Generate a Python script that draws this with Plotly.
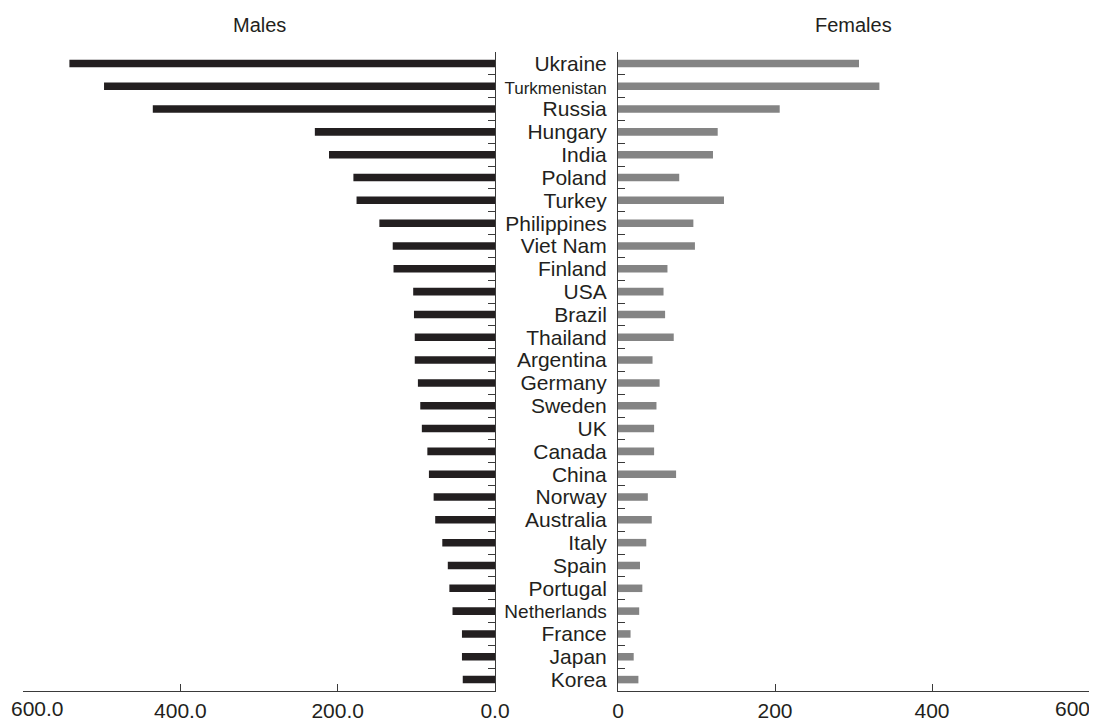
import plotly.graph_objects as go

countries = ["Ukraine", "Turkmenistan", "Russia", "Hungary", "India", "Poland", "Turkey",
             "Philippines", "Viet Nam", "Finland", "USA", "Brazil", "Thailand", "Argentina",
             "Germany", "Sweden", "UK", "Canada", "China", "Norway", "Australia", "Italy",
             "Spain", "Portugal", "Netherlands", "France", "Japan", "Korea"]
males = [541, 497, 435, 229, 211, 180, 176, 147, 130, 129, 104, 103, 102, 102,
         98, 95, 93, 86, 84, 78, 76, 67, 60, 58, 54, 42, 42, 41]
females = [307, 333, 206, 127, 121, 78, 135, 96, 98, 63, 58, 60, 71, 44,
           53, 49, 46, 46, 74, 38, 43, 36, 28, 31, 27, 16, 20, 26]
left_ticks = [0, 200, 400, 600]
right_ticks = [0, 200, 400, 600]
# long names are set in a narrower face in the original; emulate with a smaller size
label_sizes = {"Turkmenistan": 17, "Netherlands": 19}

W, H = 1097, 722
OFF = 8  # page body margin shifts the figure by 8px
INK = "#231f20"
AX = "#3a3a3a"
FONT = "Liberation Sans, Arial, sans-serif"
TICK_SIZE = 21

ticktext = [f"<span style='font-size:{label_sizes[c]}px'>{c}</span>" if c in label_sizes else c
            for c in countries]

fig = go.Figure()
fig.add_trace(go.Bar(y=countries, x=males, orientation="h", xaxis="x", yaxis="y",
                     marker=dict(color=INK, line=dict(width=0)), width=0.33,
                     showlegend=False, hoverinfo="x+y"))
fig.add_trace(go.Bar(y=countries, x=females, orientation="h", xaxis="x2", yaxis="y2",
                     marker=dict(color="#848484", line=dict(width=0)), width=0.33,
                     showlegend=False, hoverinfo="x+y"))

common_x = dict(showgrid=False, zeroline=False, showline=True, linecolor=AX, linewidth=1,
                ticks="inside", ticklen=7, tickcolor=AX, tickwidth=1, automargin=False,
                tickfont=dict(size=TICK_SIZE, color=INK, family=FONT), ticklabelstandoff=1)
common_y = dict(type="category", categoryorder="array", categoryarray=countries,
                range=[27.5, -0.5], showgrid=False, zeroline=False, showline=True,
                linecolor=AX, linewidth=1, ticks="inside", ticklen=7, tickcolor=AX,
                tickwidth=1, tickson="boundaries", automargin=False, domain=[0, 1])

fig.update_layout(
    width=W, height=H, template="none",
    margin=dict(l=0, r=0, t=52 - OFF, b=31 + OFF),
    paper_bgcolor="white", plot_bgcolor="white",
    font=dict(family=FONT, color=INK),
    xaxis=dict(domain=[(23 - OFF) / W, (495 - OFF) / W], range=[600, 0], anchor="y",
               tickmode="array", tickvals=left_ticks,
               ticktext=["" if v == 600 else f"{v:.1f}" for v in left_ticks], **common_x),
    xaxis2=dict(domain=[(618 - OFF) / W, (1089 - OFF) / W], range=[0, 600], anchor="y2",
                tickmode="array", tickvals=right_ticks,
                ticktext=["" if v == 600 else f"{v}" for v in right_ticks], **common_x),
    yaxis=dict(anchor="x", side="right", showticklabels=False, **common_y),
    yaxis2=dict(anchor="x2", side="left", showticklabels=True,
                tickmode="array", tickvals=countries, ticktext=ticktext,
                tickfont=dict(size=21, color=INK, family=FONT), ticklabelstandoff=6,
                **common_y),
    annotations=[
        dict(text="Males", xref="paper", yref="paper", x=(259 - OFF) / W, y=1, yshift=27,
             xanchor="center", yanchor="middle", showarrow=False,
             font=dict(size=20, color=INK, family=FONT)),
        dict(text="Females", xref="paper", yref="paper", x=(853.5 - OFF) / W, y=1, yshift=27,
             xanchor="center", yanchor="middle", showarrow=False,
             font=dict(size=20, color=INK, family=FONT)),
        dict(text=f"{left_ticks[-1]:.1f}", xref="x", yref="paper", x=600, y=0,
             xanchor="left", yanchor="top", xshift=-14, yshift=-4, showarrow=False,
             font=dict(size=TICK_SIZE, color=INK, family=FONT)),
        dict(text=f"{right_ticks[-1]}", xref="x2", yref="paper", x=600, y=0,
             xanchor="right", yanchor="top", xshift=3, yshift=-4, showarrow=False,
             font=dict(size=TICK_SIZE, color=INK, family=FONT)),
    ],
    bargap=0.67,
)

fig.write_html("out.html")
